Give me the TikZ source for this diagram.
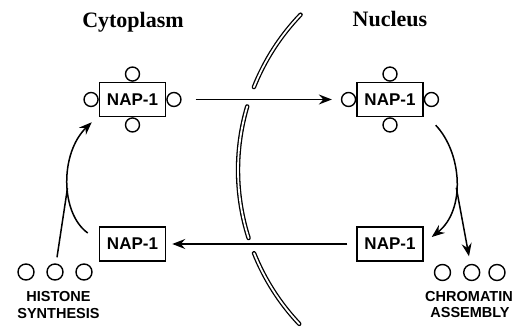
\documentclass[tikz,border=0pt]{standalone}
\usepackage{fontspec}
\setmainfont{Liberation Serif}
\setsansfont{Liberation Sans}
\usetikzlibrary{arrows.meta}
\begin{document}
\begin{tikzpicture}[x=1pt,y=1pt,
  napbox/.style={draw, line width=1.5pt, minimum width=66pt, minimum height=34pt, inner sep=0pt,
    font=\sffamily\bfseries\fontsize{17}{17}\selectfont},
  bead/.style={draw, circle, line width=1.4pt, minimum size=14pt, inner sep=0pt},
  hbead/.style={draw, circle, line width=1.4pt, minimum size=16pt, inner sep=0pt},
  title/.style={font=\bfseries\fontsize{22}{22}\selectfont, anchor=base},
  lab/.style={font=\sffamily\bfseries\fontsize{14.5}{14.5}\selectfont, anchor=base},
  arr/.style={line width=1.5pt, -{Stealth[length=13pt,width=10pt,inset=4.5pt]}},
  plainline/.style={line width=1.5pt},
  memb/.style={double, double distance=1.8pt, line width=1.3pt, line cap=round},
]
\useasboundingbox (0,0) rectangle (515,328);

% membrane (nuclear envelope)
\draw[memb] (462,158) ++(136.1:224) arc[start angle=136.1, end angle=158.3, radius=224];
\draw[memb] (462,158) ++(163.5:224) arc[start angle=163.5, end angle=197.7, radius=224];
\draw[memb] (462,158) ++(201.8:224) arc[start angle=201.8, end angle=223.4, radius=224];

% titles
\node[title] (cyto) at (133,300) {Cytoplasm};
\node[title] (nuc) at (390,301) {Nucleus};

% top complexes
\node[napbox] (c1) at (132.5,228.5) {NAP-1};
\node[bead, anchor=east] (c1w) at (c1.west) {};
\node[bead, anchor=west] (c1e) at (c1.east) {};
\node[bead, anchor=south] (c1n) at (c1.north) {};
\node[bead, anchor=north] (c1s) at (c1.south) {};

\node[napbox] (c2) at (390,228.5) {NAP-1};
\node[bead, anchor=east] (c2w) at (c2.west) {};
\node[bead, anchor=west] (c2e) at (c2.east) {};
\node[bead, anchor=south] (c2n) at (c2.north) {};
\node[bead, anchor=north] (c2s) at (c2.south) {};

% bottom free NAP-1
\node[napbox] (b1) at (132.5,84) {NAP-1};
\node[napbox] (b2) at (390,84) {NAP-1};

% histones
\node[hbead] (hb1) at (26,56) {};
\node[hbead] (hb2) at (55,56) {};
\node[hbead] (hb3) at (84,56) {};
\node[hbead] (cb1) at (442.5,55.5) {};
\node[hbead] (cb2) at (471.7,55.5) {};
\node[hbead] (cb3) at (497,55.5) {};

\node[lab] (h1) at (58.5,26) {HISTONE};
\node[lab] (h2) at (58.5,9) {SYNTHESIS};
\node[lab] (ch1) at (469,26) {CHROMATIN};
\node[lab] (ch2) at (470,10) {ASSEMBLY};

% straight arrows
\draw[arr] ([xshift=14pt]c1e.east) -- ([xshift=-9pt]c2w.west);
\draw[arr] ([xshift=-9pt]b2.west) -- ([xshift=6pt]b1.east);

% left loop
\coordinate (lstart) at ([shift={(-11,11)}]b1.west);
\coordinate (ltip) at ([shift={(-7,-5)}]c1.south west);
\coordinate (ljoin) at (67.5,140);
\draw[arr] (lstart) .. controls (60,115) and (60,175) .. (ltip);
\draw[plainline] ([shift={(2,6)}]hb2.north) -- (ljoin);

% right loop
\coordinate (rstart) at ([shift={(12,-8)}]c2.south east);
\coordinate (rtip) at ([shift={(8,7)}]b2.east);
\coordinate (rjoin) at (456.3,140.3);
\draw[arr] (rstart) .. controls (462,175) and (466,118) .. (rtip);
\draw[arr] (rjoin) -- ([shift={(-2.7,7.5)}]cb2.north);
\end{tikzpicture}
\end{document}
